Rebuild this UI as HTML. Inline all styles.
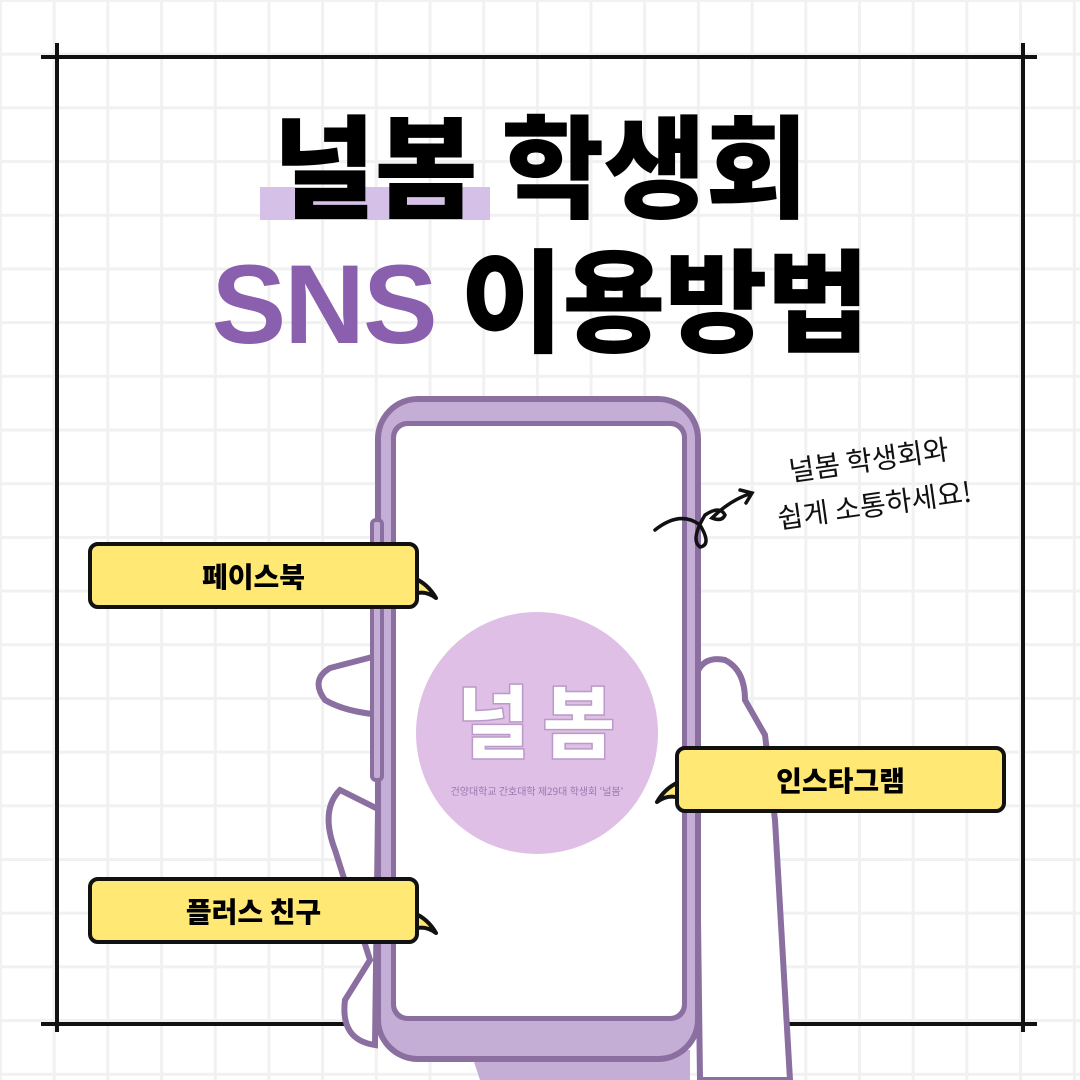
<!DOCTYPE html>
<html><head><meta charset="utf-8"><style>
body{margin:0;width:1080px;height:1080px;overflow:hidden;background:#fff;font-family:"Liberation Sans","Noto Sans CJK KR",sans-serif;}
.grid{position:absolute;inset:0;background-image:linear-gradient(#f1f1f1 3px,transparent 3px),linear-gradient(90deg,#f1f1f1 3px,transparent 3px);background-size:53.7px 53.7px;background-position:-1px -1px;}
.t{position:absolute;left:0;width:1080px;text-align:center;font-weight:900;font-family:"Noto Sans CJK KR",sans-serif;letter-spacing:-1px;}
.b{position:absolute;background:#ffe873;border:4px solid #111;border-radius:10px;box-sizing:border-box;font-family:"Noto Sans CJK KR",sans-serif;font-weight:900;font-size:28px;display:flex;align-items:center;justify-content:center;}
</style></head><body>
<div class="grid"></div>
<svg width="1080" height="1080" style="position:absolute;left:0;top:0">
<g stroke="#111" stroke-width="4">
<line x1="41" y1="57" x2="1037" y2="57"/><line x1="41" y1="1024" x2="1037" y2="1024"/>
<line x1="57" y1="43" x2="57" y2="1032"/><line x1="1023" y1="43" x2="1023" y2="1032"/>
</g>
<rect x="260" y="187" width="230" height="33" fill="#d5c0e7"/>
<!-- hands -->
<path d="M380 655 L330 668 Q310 680 325 700 Q345 712 382 715 L380 810 L340 790 Q320 810 335 850 L370 960 L345 1000 Q340 1040 375 1045 Z" fill="#fff" stroke="#8a6fa0" stroke-width="6"/>
<path d="M695 680 Q700 655 725 660 Q745 670 745 700 L765 735 L775 820 L790 1080 L700 1080 Z" fill="#fff" stroke="#8a6fa0" stroke-width="6"/>
<path d="M470 1050 L480 1080 L690 1080 L690 1050 Z" fill="#c5aed6"/>
<rect x="378" y="399" width="320" height="660" rx="40" fill="#c5aed6" stroke="#8a6fa0" stroke-width="6"/>
<rect x="372" y="520" width="10" height="260" rx="4" fill="#c5aed6" stroke="#8a6fa0" stroke-width="4"/>
<rect x="391" y="421" width="296" height="600" rx="16" fill="#8a6fa0"/>
<rect x="396" y="426" width="286" height="590" rx="12" fill="#fff"/>
<circle cx="537" cy="733" r="121" fill="#dfbfe6"/>
<text x="542" y="752" text-anchor="middle" font-family="Noto Sans CJK KR" font-weight="900" font-size="80" fill="#fff" stroke="#b99ac8" stroke-width="1.5" letter-spacing="12">널봄</text>
<text x="537" y="795" text-anchor="middle" font-family="Noto Sans CJK KR" font-size="10" fill="#9a78ae">건양대학교 간호대학 제29대 학생회 '널봄'</text>
<!-- bubble tails -->
<path d="M414 578 Q428 584 436 598 Q425 590 414 594 Z" fill="#ffe873" stroke="#111" stroke-width="4" stroke-linejoin="round"/>
<path d="M414 913 Q428 919 436 933 Q425 925 414 929 Z" fill="#ffe873" stroke="#111" stroke-width="4" stroke-linejoin="round"/>
<path d="M679 782 Q665 788 657 802 Q668 794 679 798 Z" fill="#ffe873" stroke="#111" stroke-width="4" stroke-linejoin="round"/>
<!-- arrow -->
<path d="M655 530 Q680 510 700 525 Q712 545 700 547 Q690 540 705 515 Q720 505 725 515 Q722 522 712 518 Q730 500 752 493 M740 490 L752 493 L746 503" fill="none" stroke="#111" stroke-width="3.5" stroke-linecap="round"/>
<text transform="rotate(-8 870 470)" x="870" y="470" text-anchor="middle" font-family="Noto Sans CJK KR" font-size="28" fill="#111">널봄 학생회와</text>
<text transform="rotate(-8 875 510)" x="875" y="515" text-anchor="middle" font-family="Noto Sans CJK KR" font-size="28" fill="#111">쉽게 소통하세요!</text>
</svg>
<div class="t" style="top:96px;font-size:112px;line-height:130px;color:#000">널봄 학생회</div>
<div class="t" style="top:230px;font-size:112px;line-height:130px;color:#000"><span style="color:#8a5fad;font-family:'Liberation Sans',sans-serif;font-weight:bold;letter-spacing:-2px">SNS</span> 이용방법</div>
<div class="b" style="left:88px;top:542px;width:331px;height:67px">페이스북</div>
<div class="b" style="left:88px;top:877px;width:331px;height:67px">플러스 친구</div>
<div class="b" style="left:675px;top:746px;width:331px;height:67px">인스타그램</div>
</body></html>
